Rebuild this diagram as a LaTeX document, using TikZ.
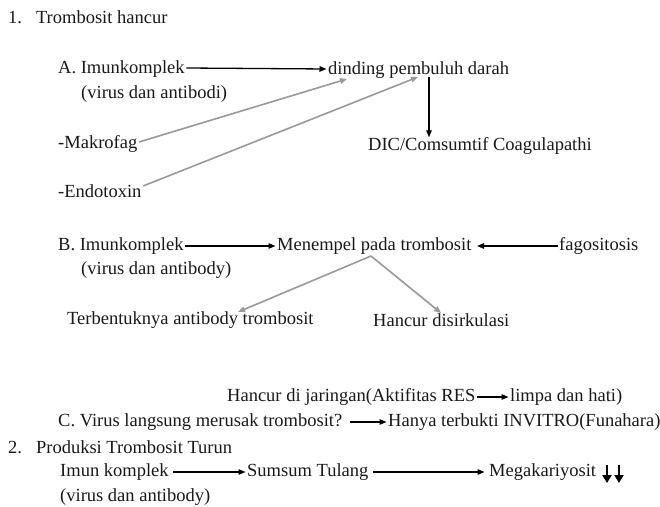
\documentclass[tikz,border=0pt]{standalone}
\usepackage{fontspec}
\setmainfont{Liberation Serif}
\usetikzlibrary{arrows.meta}
\tikzset{
  txt/.style={anchor=west, inner xsep=1.5bp, inner ysep=0pt, font=\fontsize{18.5bp}{22bp}\selectfont, text=black!90},
  blk/.style={draw=black, line width=1.3bp, -{Triangle[length=7bp,width=5.5bp]}},
  gry/.style={draw=black!40, line width=1.6bp, -{Triangle[length=7bp,width=5.5bp]}},
  down/.style={draw=black, line width=2.6bp, -{Triangle[length=8bp,width=9bp]}}
}
\begin{document}
\begin{tikzpicture}[x=1bp,y=-1bp]
  \fill[white] (0,0) rectangle (660,507);
  \useasboundingbox (0,0) rectangle (660,507);

  % 1. platelets destroyed
  \node[txt] (t1) at (6.5,17) {1.\hspace{14bp}Trombosit hancur};

  % A
  \node[txt] (a1)    at (56.5,69)  {A. Imunkomplek};
  \node[txt] (dind)  at (326.5,70) {dinding pembuluh darah};
  \node[txt] (avir)  at (79.5,94)  {(virus dan antibodi)};
  \node[txt] (makro) at (56.5,144) {-Makrofag};
  \node[txt] (endo)  at (56.5,191) {-Endotoxin};
  \node[txt] (dic)   at (366.5,146) {DIC/Comsumtif Coagulapathi};

  \coordinate (mk) at (347,79);
  \coordinate (en) at (418,77);
  \coordinate (dd) at (429,77);

  \draw[blk] ([yshift=1bp]a1.east) -- ([yshift=1bp]dind.west);
  \draw[gry] ([yshift=2bp]makro.east) -- (mk);
  \draw[gry] ([yshift=5bp]endo.east) -- (en);
  \draw[blk] (dd) -- (dd |- dic.north);

  % B
  \node[txt] (b1)    at (56.5,246)  {B. Imunkomplek};
  \node[txt] (menem) at (275.5,246) {Menempel pada trombosit};
  \node[txt] (fago)  at (557.5,246) {fagositosis};
  \node[txt] (bvir)  at (79.5,270)  {(virus dan antibody)};
  \node[txt] (terb)  at (65.5,320)  {Terbentuknya antibody trombosit};
  \node[txt] (hancd) at (371.5,320) {Hancur disirkulasi};

  \coordinate (sp) at (371,256);
  \coordinate (ta) at (238,312);
  \coordinate (tb) at (441,313);

  \draw[blk] (b1.east) -- (menem.west);
  \draw[blk] (fago.west) -- ([xshift=4bp]menem.east);
  \draw[gry] (sp) -- (ta);
  \draw[gry] (sp) -- (tb);

  % C
  \node[txt] (hancj) at (225.5,397) {Hancur di jaringan(Aktifitas RES};
  \node[txt] (limpa) at (508.5,397) {limpa dan hati)};
  \node[txt] (cvir)  at (56.5,422)  {C. Virus langsung merusak trombosit?};
  \node[txt] (hanya) at (386.5,422) {Hanya terbukti INVITRO(Funahara)};

  \draw[blk] (hancj.east) -- (limpa.west);
  \draw[blk] ([xshift=6bp]cvir.east) -- (hanya.west);

  % 2. production
  \node[txt] (p2)     at (6.5,447)   {2.\hspace{14bp}Produksi Trombosit Turun};
  \node[txt] (imun)   at (58.5,472)  {Imun komplek};
  \node[txt] (sumsum) at (245.5,472) {Sumsum Tulang};
  \node[txt] (mega)   at (487.5,472) {Megakariyosit};
  \node[txt] (pvir)   at (58.5,497)  {(virus dan antibody)};

  \draw[blk] ([xshift=3bp]imun.east) -- (sumsum.west);
  \draw[blk] ([xshift=3bp]sumsum.east) -- ([xshift=-3bp]mega.west);

  \coordinate (d1) at (607,465);
  \coordinate (d2) at (619,465);
  \draw[down] (d1) -- ++(0,18);
  \draw[down] (d2) -- ++(0,18);
\end{tikzpicture}
\end{document}
